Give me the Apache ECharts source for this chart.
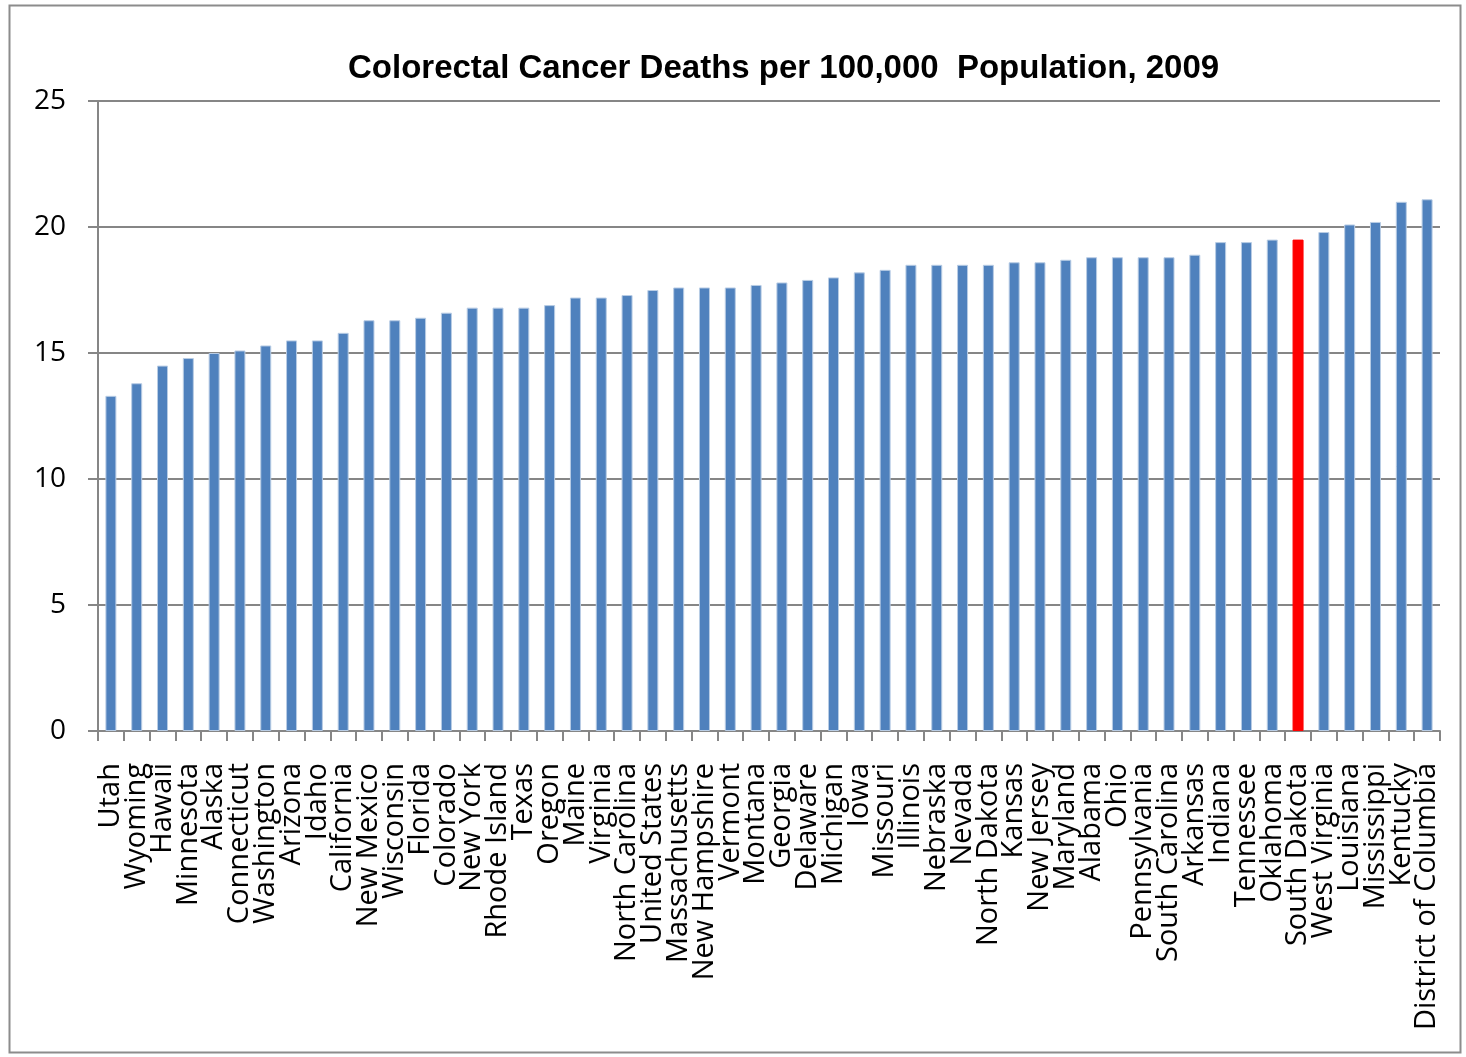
<!DOCTYPE html>
<html>
<head>
<meta charset="utf-8">
<script src="https://cdn.jsdelivr.net/npm/echarts@6/dist/echarts.min.js"></script>
<style>
  html, body { margin: 0; padding: 0; background: #fff; }
  #chart-container { width: 1466px; height: 1057px; }
</style>
</head>
<body>
<div id="chart-container"></div>
<script>
const states = ['Utah', 'Wyoming', 'Hawaii', 'Minnesota', 'Alaska', 'Connecticut', 'Washington', 'Arizona', 'Idaho', 'California',
  'New Mexico', 'Wisconsin', 'Florida', 'Colorado', 'New York', 'Rhode Island', 'Texas', 'Oregon', 'Maine', 'Virginia',
  'North Carolina', 'United States', 'Massachusetts', 'New Hampshire', 'Vermont', 'Montana', 'Georgia', 'Delaware', 'Michigan', 'Iowa',
  'Missouri', 'Illinois', 'Nebraska', 'Nevada', 'North Dakota', 'Kansas', 'New Jersey', 'Maryland', 'Alabama', 'Ohio',
  'Pennsylvania', 'South Carolina', 'Arkansas', 'Indiana', 'Tennessee', 'Oklahoma', 'South Dakota', 'West Virginia', 'Louisiana', 'Mississippi',
  'Kentucky', 'District of Columbia'];
const deathRates = [13.3, 13.8, 14.5, 14.8, 15.0, 15.1, 15.3, 15.5, 15.5, 15.8,
  16.3, 16.3, 16.4, 16.6, 16.8, 16.8, 16.8, 16.9, 17.2, 17.2,
  17.3, 17.5, 17.6, 17.6, 17.6, 17.7, 17.8, 17.9, 18.0, 18.2,
  18.3, 18.5, 18.5, 18.5, 18.5, 18.6, 18.6, 18.7, 18.8, 18.8,
  18.8, 18.8, 18.9, 19.4, 19.4, 19.5, 19.5, 19.8, 20.1, 20.2,
  21.0, 21.1];
const highlightState = 'South Dakota';
const yTicks = [0, 5, 10, 15, 20, 25];

const myChart = echarts.init(document.getElementById('chart-container'));

const barData = deathRates.map((v, i) => ({
  value: v,
  itemStyle: states[i] === highlightState
    ? { color: '#FF0000', borderColor: '#FF0000' }
    : { color: '#4F81BD', borderColor: '#B9CDE5' }
}));

myChart.setOption({
  animation: false,
  textStyle: { fontFamily: 'Open Sans' },
  title: {
    text: 'Colorectal Cancer Deaths per 100,000  Population, 2009',
    left: 343,
    top: 47,
    textStyle: {
      fontFamily: 'Liberation Sans',
      fontWeight: 'bold',
      fontSize: 33,
      color: '#000'
    }
  },
  graphic: [{
    type: 'rect',
    shape: { x: 9.5, y: 5.5, width: 1451, height: 1047 },
    style: { fill: 'none', stroke: '#8c8c8c', lineWidth: 2 },
    silent: true
  }],
  grid: { left: 98, right: 26, top: 101, bottom: 326 },
  xAxis: {
    type: 'category',
    data: states,
    axisLine: { lineStyle: { color: '#868686', width: 2 } },
    axisTick: { show: true, length: 10, alignWithLabel: false, lineStyle: { color: '#868686', width: 2 } },
    axisLabel: {
      rotate: 90,
      interval: 0,
      margin: 32,
      fontSize: 29,
      color: '#000',
      fontFamily: 'Open Sans'
    }
  },
  yAxis: {
    type: 'value',
    min: yTicks[0],
    max: yTicks[yTicks.length - 1],
    interval: 5,
    axisLine: { show: true, lineStyle: { color: '#868686', width: 2 } },
    axisTick: { show: true, length: 10, lineStyle: { color: '#868686', width: 2 } },
    splitLine: { lineStyle: { color: '#868686', width: 2 } },
    axisLabel: { fontSize: 28, color: '#000', margin: 32, fontFamily: 'Open Sans' }
  },
  series: [{
    type: 'bar',
    data: barData,
    barWidth: 11,
    itemStyle: { borderWidth: 1 }
  }]
});
</script>
</body>
</html>
